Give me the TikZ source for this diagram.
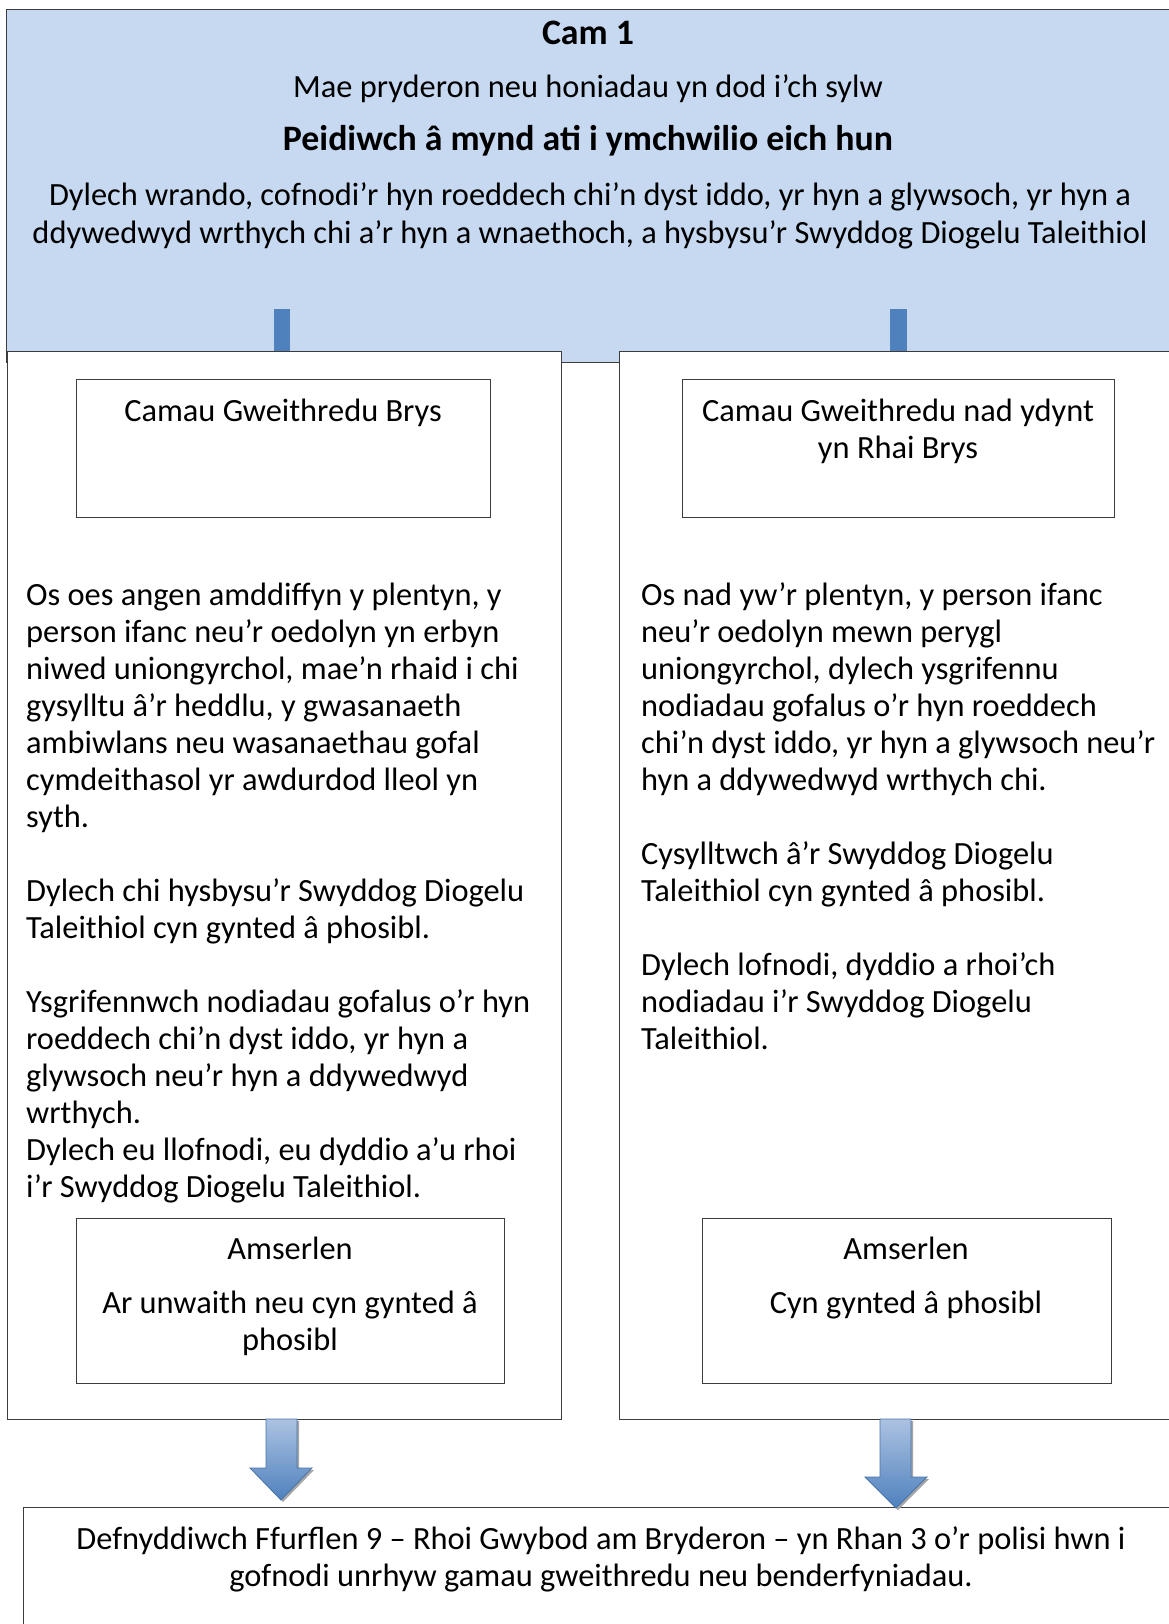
\documentclass[tikz,border=0pt]{standalone}
\usepackage{fontspec}
\setmainfont{Carlito}
\definecolor{topblue}{RGB}{198,217,241}
\definecolor{accent}{RGB}{79,129,189}
\definecolor{lightacc}{RGB}{172,194,226}
\definecolor{edge}{RGB}{60,60,60}
\newcommand{\bodyfont}{\fontsize{32.4}{37}\selectfont}
\newcommand{\headfont}{\fontsize{35.8}{40}\selectfont\bfseries}
\begin{document}
\begin{tikzpicture}[x=1pt,y=-1pt,
  box/.style={draw=edge,line width=1.2pt,fill=white,inner sep=0,anchor=north west},
  ibox/.style={draw=edge,line width=1pt,fill=white,inner sep=0,anchor=north west},
  txt/.style={inner sep=0,anchor=base west,font=\bodyfont},
  ctxt/.style={inner sep=0,anchor=base,font=\bodyfont},
  bar/.style={fill=accent},
  blockarrow/.style={draw=accent!90!black,line width=0.8pt,top color=lightacc,bottom color=accent}]
\useasboundingbox[fill=white] (0,0) rectangle (1168,1624);
% top box
\node[box,fill=topblue,minimum width=1180,minimum height=353] (top) at (6,9) {};
\node[ctxt,font=\headfont] (t1) at (588,45) {Cam 1};
\node[ctxt] (t2) at (588,98) {Mae pryderon neu honiadau yn dod i’ch sylw};
\node[ctxt,font=\headfont] (t3) at (588,151) {Peidiwch â mynd ati i ymchwilio eich hun};
\node[ctxt] (t4) at (590,206) {\begin{tabular}[t]{@{}c@{}}Dylech wrando, cofnodi’r hyn roeddech chi’n dyst iddo, yr hyn a glywsoch, yr hyn a\\ ddywedwyd wrthych chi a’r hyn a wnaethoch, a hysbysu’r Swyddog Diogelu Taleithiol\end{tabular}};
% stubs of the arrows from the top box
\fill[bar] (274,309) rectangle (290,352);
\fill[bar] (890,309) rectangle (907,352);
% panels
\node[box,minimum width=554,minimum height=1068] (lp) at (7,351) {};
\node[box,minimum width=560,minimum height=1068] (rp) at (619,351) {};
% heading boxes
\node[ibox,minimum width=414.5,minimum height=138] (lh) at (75.5,379) {};
\node[ibox,minimum width=432,minimum height=138] (rh) at (682,379) {};
\node[ctxt] (lht) at (283,421) {Camau Gweithredu Brys};
\node[ctxt] (rht) at (898,421) {\begin{tabular}[t]{@{}c@{}}Camau Gweithredu nad ydynt\\ yn Rhai Brys\end{tabular}};
% body texts
\node[txt] (lt) at (26,605) {\begin{tabular}[t]{@{}l@{}}
Os oes angen amddiffyn y plentyn, y\\
person ifanc neu’r oedolyn yn erbyn\\
niwed uniongyrchol, mae’n rhaid i chi\\
gysylltu â’r heddlu, y gwasanaeth\\
ambiwlans neu wasanaethau gofal\\
cymdeithasol yr awdurdod lleol yn\\
syth.\\
\\
Dylech chi hysbysu’r Swyddog Diogelu\\
Taleithiol cyn gynted â phosibl.\\
\\
Ysgrifennwch nodiadau gofalus o’r hyn\\
roeddech chi’n dyst iddo, yr hyn a\\
glywsoch neu’r hyn a ddywedwyd\\
wrthych.\\
Dylech eu llofnodi, eu dyddio a’u rhoi\\
i’r Swyddog Diogelu Taleithiol.
\end{tabular}};
\node[txt] (rt) at (641,605) {\begin{tabular}[t]{@{}l@{}}
Os nad yw’r plentyn, y person ifanc\\
neu’r oedolyn mewn perygl\\
uniongyrchol, dylech ysgrifennu\\
nodiadau gofalus o’r hyn roeddech\\
chi’n dyst iddo, yr hyn a glywsoch neu’r\\
hyn a ddywedwyd wrthych chi.\\
\\
Cysylltwch â’r Swyddog Diogelu\\
Taleithiol cyn gynted â phosibl.\\
\\
Dylech lofnodi, dyddio a rhoi’ch\\
nodiadau i’r Swyddog Diogelu\\
Taleithiol.
\end{tabular}};
% timetable boxes
\node[ibox,minimum width=428.5,minimum height=165] (la) at (75.5,1218) {};
\node[ibox,minimum width=409,minimum height=165] (ra) at (702,1218) {};
\node[ctxt] (lat) at (290,1259) {Amserlen};
\node[ctxt] (lab) at (290,1313) {\begin{tabular}[t]{@{}c@{}}Ar unwaith neu cyn gynted â\\ phosibl\end{tabular}};
\node[ctxt] (rat) at (906,1259) {Amserlen};
\node[ctxt] (rab) at (906,1313) {Cyn gynted â phosibl};
% bottom box
\node[box,minimum width=1160,minimum height=130] (bot) at (23,1507) {};
\node[ctxt] (bt) at (601,1549) {\begin{tabular}[t]{@{}c@{}}Defnyddiwch Ffurflen 9 – Rhoi Gwybod am Bryderon – yn Rhan 3 o’r polisi hwn i\\ gofnodi unrhyw gamau gweithredu neu benderfyniadau.\end{tabular}};
% block arrows
\fill[black!35] (268,1421) -- (299,1421) -- (299,1470) -- (314,1470) -- (283,1502) -- (252,1470) -- (268,1470) -- cycle;
\path[blockarrow] (266,1419) -- (297,1419) -- (297,1468) -- (312,1468) -- (281,1500) -- (250,1468) -- (266,1468) -- cycle;
\fill[black!35] (882,1421) -- (913,1421) -- (913,1479) -- (929,1479) -- (898,1510) -- (867,1479) -- (882,1479) -- cycle;
\path[blockarrow] (880,1419) -- (911,1419) -- (911,1477) -- (927,1477) -- (896,1508) -- (865,1477) -- (880,1477) -- cycle;
\end{tikzpicture}
\end{document}
